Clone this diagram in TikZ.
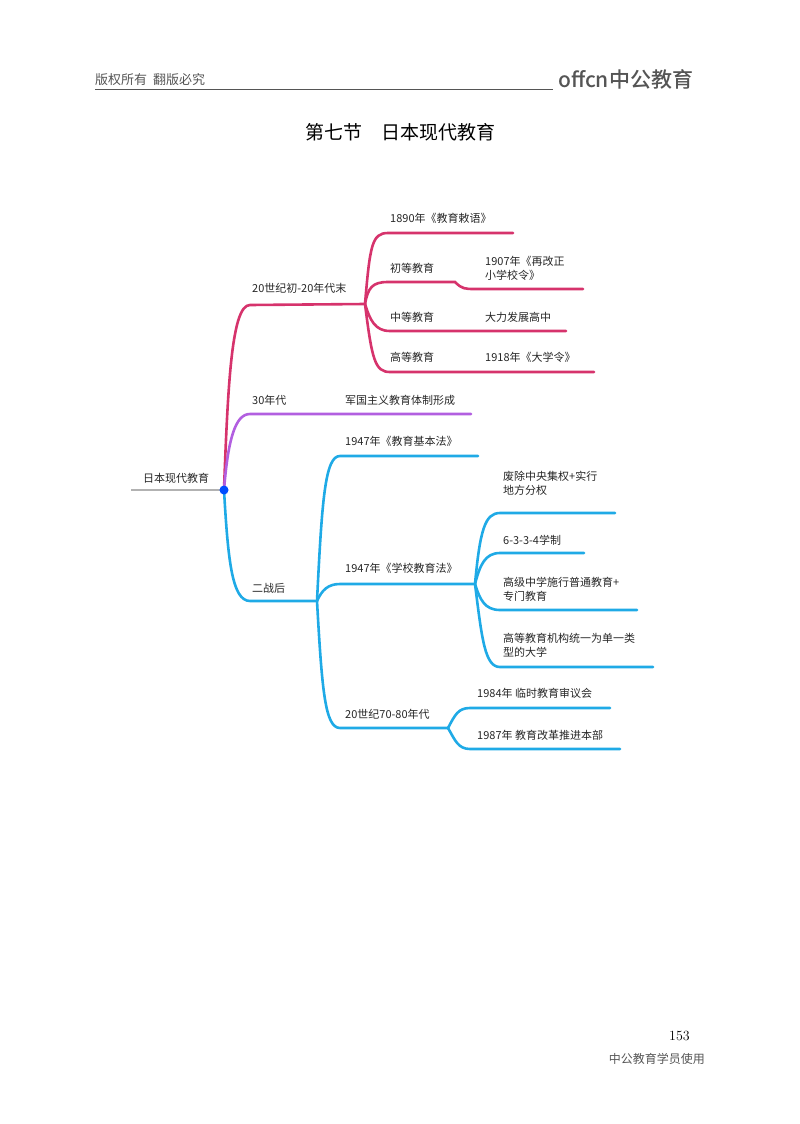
\documentclass[tikz,border=0pt]{standalone}
\usepackage{fontspec}
\newfontfamily\cjk{Noto Sans CJK SC}
\newfontfamily\cjkb{Noto Sans CJK SC Medium}
\definecolor{pk}{HTML}{D6336C}
\definecolor{pu}{HTML}{B25FE0}
\definecolor{bl}{HTML}{1FAAE6}
\definecolor{gr}{HTML}{555555}
\begin{document}
\begin{tikzpicture}[x=1pt,y=-1pt,
  lab/.style={anchor=west,inner sep=0pt,font=\cjk\fontsize{11}{14}\selectfont,align=left,text=black!85},
  br/.style={line width=2.6pt,line cap=round},
  pkl/.style={br,pk}, pul/.style={br,pu}, bll/.style={br,bl}]
\useasboundingbox (0,0) rectangle (800,1124);
% header
\node[anchor=west,inner sep=0pt,font=\cjk\fontsize{13}{15}\selectfont,text=gr] (hd) at (95,80) {版权所有\ \ 翻版必究};
\coordinate (u1) at (95,89); \coordinate (u2) at (553,89);
\draw[gr,line width=0.6pt] (u1) -- (u2);
\node[anchor=west,inner sep=0pt,font=\cjkb\fontsize{21}{22}\selectfont,text=gr] (logo) at (558,79) {offcn中公教育};
\node[font=\cjk\fontsize{19}{22}\selectfont] (title) at (400,132) {第七节\quad 日本现代教育};
% footer
\node[font=\fontsize{14}{16}\selectfont,anchor=east,inner sep=0pt] (pg) at (690,1036) {153};
\node[font=\cjk\fontsize{12}{14}\selectfont,anchor=east,inner sep=0pt,text=gr] (ft) at (705,1059) {中公教育学员使用};
% root
\coordinate (r0) at (131,490); \coordinate (r) at (224,490);
\draw[line width=2.6pt,gray!60] (r0) -- (r);
\node[lab] (root) at (143,478) {日本现代教育};
% pink
\coordinate (p1) at (365,304);
\draw[pkl] (r) .. controls (228,380) and (232,305) .. (250,305) -- (p1);
\node[lab] (t1) at (252,288) {20世纪初-20年代末};
\coordinate (a1) at (513,233);
\draw[pkl] (p1) .. controls (370,245) and (372,233) .. (388,233) -- (a1);
\node[lab] (a1t) at (390,218) {1890年《教育敕语》};
\coordinate (a2) at (583,289);
\draw[pkl] (p1) .. controls (368,288) and (372,282) .. (388,282) -- (455,282) .. controls (462,289) and (465,289) .. (475,289) -- (a2);
\node[lab] (a2t) at (390,268) {初等教育};
\node[lab] (a2s) at (485,268) {1907年《再改正\\小学校令》};
\coordinate (a3) at (566,331);
\draw[pkl] (p1) .. controls (370,320) and (375,331) .. (390,331) -- (a3);
\node[lab] (a3t) at (390,317) {中等教育};
\node[lab] (a3s) at (485,317) {大力发展高中};
\coordinate (a4) at (594,372);
\draw[pkl] (p1) .. controls (372,360) and (375,372) .. (390,372) -- (a4);
\node[lab] (a4t) at (390,357) {高等教育};
\node[lab] (a4s) at (485,357) {1918年《大学令》};
% purple
\coordinate (q1) at (471,414);
\draw[pul] (r) .. controls (228,440) and (235,414) .. (250,414) -- (q1);
\node[lab] (qt) at (252,400) {30年代};
\node[lab] (qs) at (345,400) {军国主义教育体制形成};
% blue
\coordinate (b0) at (317,601);
\draw[bll] (r) .. controls (228,560) and (232,601) .. (250,601) -- (b0);
\node[lab] (bt) at (252,588) {二战后};
\coordinate (b1) at (478,456);
\draw[bll] (b0) .. controls (322,500) and (325,456) .. (340,456) -- (b1);
\node[lab] (b1t) at (345,441) {1947年《教育基本法》};
\coordinate (b2) at (475,584);
\draw[bll] (b0) .. controls (322,590) and (328,584) .. (340,584) -- (b2);
\node[lab] (b2t) at (345,568) {1947年《学校教育法》};
\coordinate (c1) at (615,513);
\draw[bll] (b2) .. controls (480,530) and (485,513) .. (500,513) -- (c1);
\node[lab] (c1t) at (503,483) {废除中央集权+实行\\地方分权};
\coordinate (c2) at (584,553);
\draw[bll] (b2) .. controls (480,565) and (485,553) .. (500,553) -- (c2);
\node[lab] (c2t) at (503,540) {6-3-3-4学制};
\coordinate (c3) at (637,610);
\draw[bll] (b2) .. controls (480,600) and (485,610) .. (500,610) -- (c3);
\node[lab] (c3t) at (503,589) {高级中学施行普通教育+\\专门教育};
\coordinate (c4) at (653,667);
\draw[bll] (b2) .. controls (482,640) and (485,667) .. (500,667) -- (c4);
\node[lab] (c4t) at (503,645) {高等教育机构统一为单一类\\型的大学};
\coordinate (b3) at (448,728);
\draw[bll] (b0) .. controls (322,690) and (325,728) .. (340,728) -- (b3);
\node[lab] (b3t) at (345,714) {20世纪70-80年代};
\coordinate (d1) at (610,708);
\draw[bll] (b3) .. controls (455,715) and (458,708) .. (470,708) -- (d1);
\node[lab] (d1t) at (477,693) {1984年 临时教育审议会};
\coordinate (d2) at (620,749);
\draw[bll] (b3) .. controls (455,740) and (458,749) .. (470,749) -- (d2);
\node[lab] (d2t) at (477,735) {1987年 教育改革推进本部};
\fill[blue!70!cyan] (r) circle (4.5);
\end{tikzpicture}
\end{document}
